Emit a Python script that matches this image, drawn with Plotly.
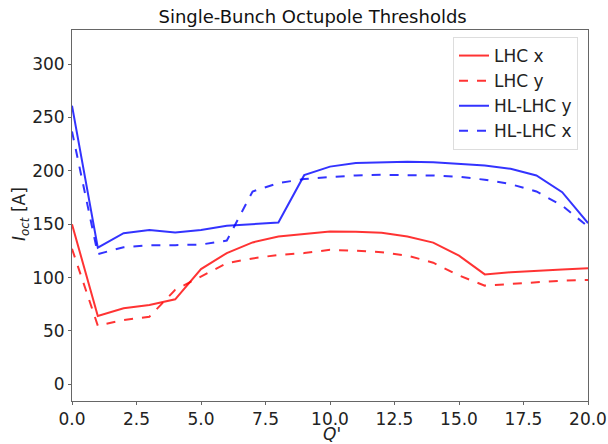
import plotly.graph_objects as go

Qp = list(range(21))
lhc_x = [150, 64, 71.3, 74.4, 79.7, 108, 123, 133, 138.5, 141, 143.2, 143, 142, 138.5, 132.8, 120.6, 103, 105, 106.6, 107.5, 108.8]
lhc_y = [127, 55, 60.3, 63.4, 88.5, 101, 113.5, 118, 121.3, 123, 126, 125.3, 123.8, 120.6, 114, 102, 92.5, 94, 95.7, 97.2, 97.8]
hl_y = [261, 128, 141.6, 144.7, 142.2, 144.7, 148.5, 150.4, 151.6, 196, 204, 207.3, 208, 208.5, 208.2, 206.7, 205, 202, 195.7, 180, 151]
hl_x = [237, 122, 128.5, 130.4, 130.4, 131, 134.7, 180.7, 188.6, 192.3, 194.2, 195.7, 196.3, 196.3, 195.7, 194.5, 191.7, 187.6, 180.7, 167.5, 147.8]

xticks = [0, 2.5, 5, 7.5, 10, 12.5, 15, 17.5, 20]
yticks = [0, 50, 100, 150, 200, 250, 300]

RED = "rgba(255,0,0,0.8)"
BLUE = "rgba(0,0,255,0.8)"

fig = go.Figure()
for name, ys, col, dash in [("LHC x", lhc_x, RED, "solid"), ("LHC y", lhc_y, RED, "dash"),
                            ("HL-LHC y", hl_y, BLUE, "solid"), ("HL-LHC x", hl_x, BLUE, "dash")]:
    fig.add_trace(go.Scatter(x=Qp, y=ys, mode="lines", name=name,
                             line=dict(color=col, width=2, dash=dash)))

axis_common = dict(showline=True, linecolor="#666", linewidth=1, mirror=True, automargin=False,
                   ticks="outside", ticklen=3, tickcolor="#666", showgrid=False, zeroline=False,
                   tickfont=dict(size=17, color="#222"))
fig.update_xaxes(range=[0, 20], tickvals=xticks, ticktext=[f"{t:.1f}" for t in xticks], **axis_common)
fig.update_yaxes(range=[-15.6, 332], tickvals=yticks, **axis_common)

W, H = 608, 444
fig.add_annotation(text="<i>Q'</i>", xref="paper", yref="paper", x=(332 - 72) / 516, y=(401 - 423) / 371,
                   xanchor="center", yanchor="top", showarrow=False, borderpad=0,
                   font=dict(size=17, color="#222"))
fig.add_annotation(text="<i>I</i><sub><i>oct</i></sub> [A]", xref="paper", yref="paper",
                   x=(20 - 72) / 516, y=(401 - 214) / 371, textangle=-90,
                   xanchor="center", yanchor="middle", showarrow=False, font=dict(size=17, color="#222"))

fig.update_layout(
    width=W, height=H, margin=dict(l=72, r=20, t=30, b=43, autoexpand=False),
    paper_bgcolor="white", plot_bgcolor="white",
    font=dict(family="DejaVu Sans", color="#222"),
    title=dict(text="Single-Bunch Octupole Thresholds", x=283.5 / W, xanchor="center",
               xref="paper", y=1 - 17 / H, yanchor="middle", font=dict(size=18, color="#111"),
               automargin=False),
    legend=dict(x=(578 - 72) / 516, y=(401 - 37) / 371, xanchor="right", yanchor="top",
                bgcolor="rgba(255,255,255,0.8)",
                bordercolor="#ddd", borderwidth=1, font=dict(size=17), tracegroupgap=0),
    showlegend=True,
)
fig.write_html("out.html")
